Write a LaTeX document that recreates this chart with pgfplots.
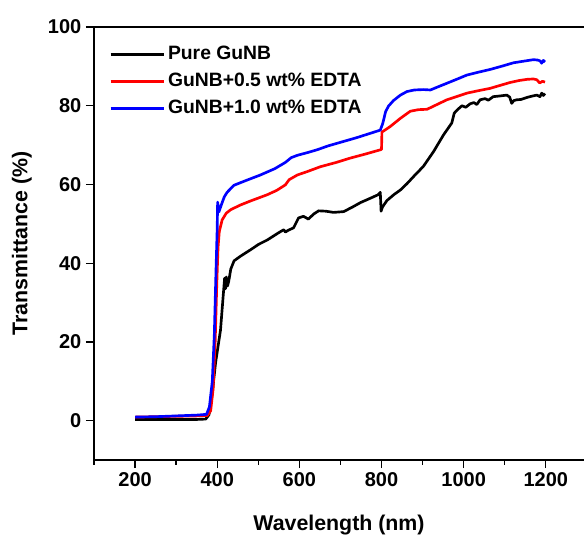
\documentclass[border=0pt]{standalone}
\usepackage{pgfplots}
\pgfplotsset{compat=1.18}
\usepackage{fontspec}
\setmainfont{Liberation Sans}

\pgfplotstableread{
x y
200 0.3
250 0.3
300 0.3
350 0.3
372 0.4
380 1.5
388 7
396 14.7
408 23
414 31
418 36.2
420 33.5
422 36.5
425 34.2
428 35.4
433 38.5
441 40.6
457 41.8
481 43.4
501 44.8
522 45.9
549 47.7
562 48.5
566 47.9
572 48.3
586 49
598 51.5
610 51.9
622 51.2
635 52.5
647 53.3
665 53.2
683 52.9
708 53.1
730 54.3
749 55.4
775 56.6
792 57.4
797 58.0
799 53.2
802 54.2
813 55.9
830 57.4
846 58.6
862 60.2
878 62
902 64.6
927 68.4
951 72.6
971 75.6
977 78.1
985 79
996 80
1005 79.6
1016 80.5
1025 80.8
1032 80.3
1040 81.5
1052 81.8
1060 81.4
1072 82.3
1090 82.5
1105 82.7
1112 82.2
1117 80.6
1122 81.3
1129 81.5
1140 81.6
1154 82.1
1165 82.4
1178 82.7
1186 82.3
1190 83.2
1194 82.6
1198 83.1
}\pure

\pgfplotstableread{
x y
200 0.9
250 1.0
300 1.1
350 1.2
376 1.3
384 2.5
390 8
395 20
399 35
402 44
405 48
412 51
422 52.7
433 53.6
457 54.8
481 55.8
522 57.4
545 58.5
566 59.9
575 61.2
595 62.4
620 63.3
651 64.5
690 65.6
724 66.7
760 67.7
797 68.8
800 68.9
801 73.3
821 74.7
846 76.8
870 78.6
890 79
911 79.1
935 80.3
959 81.5
985 82.4
1008 83.2
1035 83.8
1064 84.4
1090 85.2
1113 85.9
1135 86.4
1154 86.7
1170 86.8
1178 86.6
1185 85.8
1192 86.2
1198 86.0
}\halfpct

\pgfplotstableread{
x y
200 0.9
250 1.0
300 1.2
350 1.4
374 1.6
381 3.5
388 10
393 22
397 38
400 49
401 55.5
404 53.0
410 54.8
417 56.8
424 58.0
441 59.8
470 61.0
505 62.4
540 64.0
566 65.6
580 66.8
595 67.4
620 68.1
643 68.8
670 69.8
700 70.7
740 71.9
770 72.9
797 73.8
803 75.5
810 78.5
817 79.9
829 81.3
846 82.7
862 83.6
880 84
902 84.1
919 84.0
940 84.9
959 85.7
985 86.8
1008 87.8
1035 88.5
1064 89.2
1095 90.1
1121 90.9
1145 91.3
1170 91.7
1180 91.6
1186 91.4
1190 90.8
1194 91.5
1198 91.1
}\onepct

\begin{document}
\begin{tikzpicture}
\path[use as bounding box] (-70.5pt,-58.5pt) rectangle (367.5pt,345pt);
\begin{axis}[
  at={(0,0)}, anchor=south west,
  scale only axis,
  width=367.5pt, height=324.75pt,
  xmin=100, xmax=1293,
  ymin=-10, ymax=100,
  axis x line*=bottom, axis y line*=left,
  axis line style={line width=1pt, -},
  xtick={200,400,...,1200},
  minor xtick={100,300,...,1300},
  ytick={0,20,...,100},
  tick align=outside,
  major tick length=6pt, minor tick length=3.5pt,
  every tick/.style={black, line width=1pt},
  /pgf/number format/assume math mode=true,
  /pgf/number format/1000 sep={},
  tick label style={font=\fontsize{15}{18}\selectfont\bfseries},
  xlabel={Wavelength (nm)},
  ylabel={Transmittance (\%)},
  label style={font=\fontsize{16}{19}\selectfont\bfseries},
  xlabel style={at={(axis description cs:0.5,-0.15)}, anchor=center},
  ylabel style={at={(axis description cs:-0.147,0.5)}, anchor=center, rotate=0},
  legend style={draw=none, fill=none, inner sep=0pt,
    at={(axis description cs:0.03,0.963)}, anchor=north west,
    font=\fontsize{14.5}{17}\selectfont\bfseries,
    nodes={inner sep=2pt, text height=10.5pt, text depth=3pt},
    row sep=2.75pt},
  legend cell align=left,
  legend image code/.code={\draw[#1, line width=2.3pt] (0pt,0pt) -- (40pt,0pt);},
  every axis plot/.append style={line width=2pt, line join=round},
  after end axis/.code={\draw[line width=1pt] (rel axis cs:0,1) -- (rel axis cs:1,1);},
]
\addplot[black] table[x=x,y=y] {\pure};
\addplot[red] table[x=x,y=y] {\halfpct};
\addplot[blue] table[x=x,y=y] {\onepct};
\legend{Pure GuNB, GuNB+0.5 wt\% EDTA, GuNB+1.0 wt\% EDTA}
\end{axis}
\end{tikzpicture}
\end{document}
